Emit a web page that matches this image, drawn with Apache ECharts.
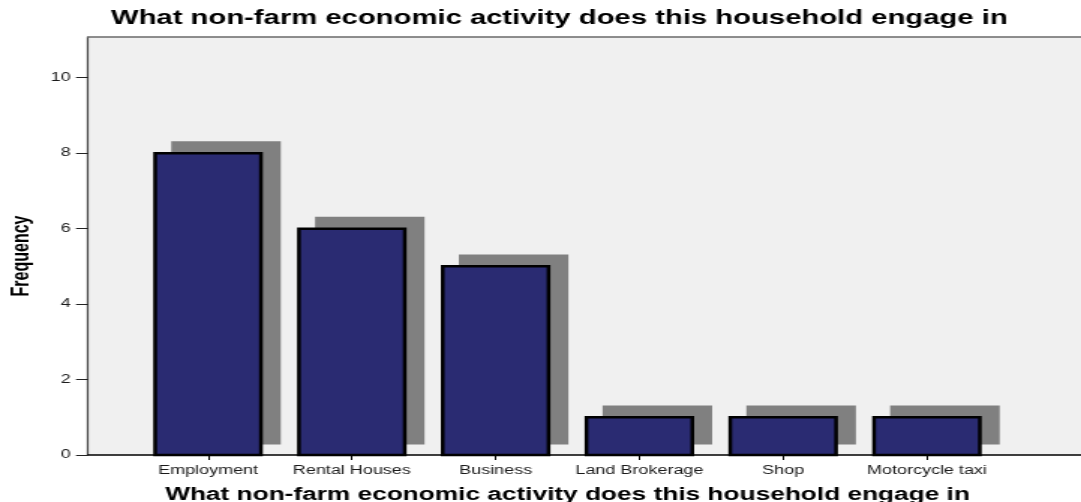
<!DOCTYPE html>
<html>
<head>
<meta charset="utf-8">
<title>Non-farm economic activity</title>
<script src="https://cdn.jsdelivr.net/npm/echarts@6/dist/echarts.min.js"></script>
<style>
  html, body { margin: 0; padding: 0; background: #ffffff; overflow: hidden; }
  /* The chart is laid out on a narrower canvas and widened to the page width,
     giving the wide, stretched lettering of the original SPSS export. */
  #chart {
    width: 721px;
    height: 502px;
    transform: scaleX(1.49931);
    transform-origin: 0 0;
  }
</style>
</head>
<body>
<div id="chart"></div>
<script>
const categories = ['Employment', 'Rental Houses', 'Business', 'Land Brokerage', 'Shop', 'Motorcycle taxi'];
const frequency = [8, 6, 5, 1, 1, 1];
const yTicks = [0, 2, 4, 6, 8, 10];
const yMax = 11;
const chartTitle = 'What non-farm economic activity does this household engage in';
const yTitle = 'Frequency';

const FONT = '"Liberation Sans", Arial, Helvetica, sans-serif';
const BAR_FILL = '#2a2b72';
const SHADOW_FILL = '#808080';
const BAR_STROKE = 2.5;

const chart = echarts.init(document.getElementById('chart'), null, { renderer: 'canvas' });

// Each bar is drawn with a drop shadow shifted right and up, SPSS style.
function renderBar(params, api) {
  const idx = api.value(0);
  const val = api.value(1);
  const top = api.coord([idx, val]);
  const base = api.coord([idx, 0]);
  const band = api.size([1, 0])[0];
  const w = band * 0.736;
  const dx = band * 0.125;
  const dy = api.size([0, 0.28])[1];
  const x = top[0] - w / 2;
  const h = base[1] - top[1];
  return {
    type: 'group',
    children: [
      {
        type: 'rect',
        shape: { x: x - BAR_STROKE / 2 + dx, y: top[1] - BAR_STROKE / 2 - dy, width: w + BAR_STROKE, height: h + BAR_STROKE / 2 },
        style: { fill: SHADOW_FILL }
      },
      {
        type: 'rect',
        shape: { x: x, y: top[1], width: w, height: h },
        style: { fill: BAR_FILL, stroke: '#000000', lineWidth: BAR_STROKE }
      }
    ]
  };
}

const option = {
  animation: false,
  backgroundColor: '#ffffff',
  textStyle: { fontFamily: FONT },
  title: {
    text: chartTitle,
    left: 74,
    top: 9,
    padding: 0,
    textStyle: { fontFamily: FONT, fontSize: 19.5, fontWeight: 'bold', color: '#000000' }
  },
  grid: [
    // plot frame and background
    { left: 58.7, right: 0, top: 37, bottom: 47, show: true, backgroundColor: '#f0f0f0', borderWidth: 0, outerBoundsMode: 'none' },
    // bar area
    { left: 90.8, width: 575.4, top: 40, bottom: 47, outerBoundsMode: 'none' }
  ],
  xAxis: [
    {
      gridIndex: 0, type: 'value', min: 0, max: 1, position: 'bottom',
      axisLine: { show: true, lineStyle: { color: '#000000', width: 1.6 } },
      axisTick: { show: false }, axisLabel: { show: false }, splitLine: { show: false }
    },
    {
      gridIndex: 0, type: 'value', min: 0, max: 1, position: 'top',
      axisLine: { show: true, lineStyle: { color: '#6a6a6a', width: 1.6 } },
      axisTick: { show: false }, axisLabel: { show: false }, splitLine: { show: false }
    },
    {
      gridIndex: 1, type: 'category', data: categories,
      axisLine: { show: false },
      axisTick: { show: true, alignWithLabel: true, length: 5, lineStyle: { color: '#000000', width: 1 } },
      axisLabel: { interval: 0, fontSize: 12, color: '#1a1a1a', margin: 10, fontFamily: FONT },
      splitLine: { show: false },
      name: chartTitle,
      nameLocation: 'middle',
      nameGap: 31.5,
      nameTextStyle: { fontFamily: FONT, fontSize: 17.5, fontWeight: 'bold', color: '#000000' }
    }
  ],
  yAxis: [
    {
      gridIndex: 0, type: 'value', min: 0, max: 1,
      axisLine: { show: true, lineStyle: { color: '#444444', width: 1.2 } },
      axisTick: { show: false }, axisLabel: { show: false }, splitLine: { show: false }
    },
    {
      gridIndex: 1, type: 'value', min: 0, max: yMax, offset: 32.1,
      axisLine: { show: false },
      axisTick: { show: true, customValues: yTicks, length: 8, lineStyle: { color: '#222222', width: 1 } },
      axisLabel: { customValues: yTicks, fontSize: 12, color: '#1a1a1a', margin: 11.5, fontFamily: FONT },
      splitLine: { show: false },
      name: yTitle,
      nameLocation: 'middle',
      nameRotate: 90,
      nameGap: 36,
      nameTextStyle: { fontFamily: FONT, fontSize: 16, fontWeight: 'bold', color: '#000000', padding: [0, 17, 0, 0] }
    }
  ],
  series: [
    {
      type: 'custom',
      xAxisIndex: 2,
      yAxisIndex: 1,
      renderItem: renderBar,
      encode: { x: 0, y: 1 },
      data: frequency.map((v, i) => [i, v])
    }
  ]
};

chart.setOption(option);
</script>
</body>
</html>
